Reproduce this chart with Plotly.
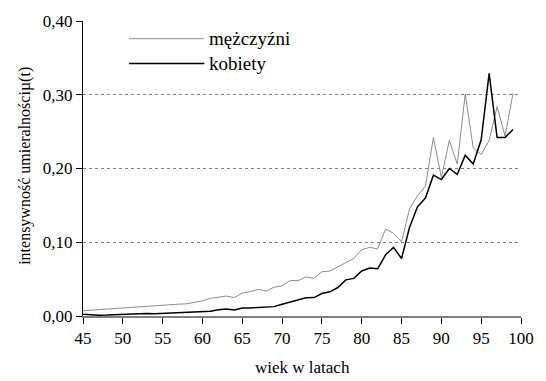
import plotly.graph_objects as go

# Age in years
ages = list(range(45, 100))

# Mortality intensity mu(t), men
men = [0.0072, 0.0080, 0.0088, 0.0098, 0.0105, 0.0112, 0.0118, 0.0124, 0.0130, 0.0142,
       0.0150, 0.0155, 0.0160, 0.0165, 0.0185, 0.0205, 0.0240, 0.0260, 0.0270, 0.0250,
       0.0310, 0.0330, 0.0360, 0.0340, 0.0390, 0.0410, 0.0480, 0.0480, 0.0530, 0.0510,
       0.0600, 0.0610, 0.0670, 0.0730, 0.0780, 0.0900, 0.0930, 0.0910, 0.1180, 0.1120,
       0.1006, 0.1450, 0.1630, 0.1760, 0.2420, 0.1880, 0.2380, 0.2060, 0.3010, 0.2280,
       0.2190, 0.2380, 0.2840, 0.2440, 0.3020]

# Mortality intensity mu(t), women
women = [0.0025, 0.0015, 0.0010, 0.0012, 0.0018, 0.0022, 0.0025, 0.0032, 0.0035, 0.0030,
         0.0034, 0.0036, 0.0040, 0.0045, 0.0050, 0.0055, 0.0065, 0.0085, 0.0094, 0.0080,
         0.0108, 0.0110, 0.0117, 0.0126, 0.0127, 0.0160, 0.0190, 0.0216, 0.0247, 0.0250,
         0.0305, 0.0328, 0.0386, 0.0490, 0.0510, 0.0610, 0.0650, 0.0640, 0.0830, 0.0930,
         0.0780, 0.1200, 0.1480, 0.1600, 0.1910, 0.1850, 0.2000, 0.1920, 0.2180, 0.2060,
         0.2390, 0.3290, 0.2420, 0.2420, 0.2530]

series_names = ["mężczyźni", "kobiety"]
x_ticks = list(range(45, 101, 5))
y_ticks = [0.0, 0.1, 0.2, 0.3, 0.4]

FONT = "Liberation Serif"
MEN_COLOR = "#8c8c8c"
WOMEN_COLOR = "#000000"

fig = go.Figure()
fig.add_trace(go.Scatter(x=ages, y=men, mode="lines", name=series_names[0],
                         line=dict(color=MEN_COLOR, width=1)))
fig.add_trace(go.Scatter(x=ages, y=women, mode="lines", name=series_names[1],
                         line=dict(color=WOMEN_COLOR, width=1.5)))

# Hand-drawn legend with long line samples
legend_rows = [(series_names[0], MEN_COLOR, 1, 0.940), (series_names[1], WOMEN_COLOR, 1.5, 0.856)]
shapes = []
annotations = []
for name, color, width, yy in legend_rows:
    shapes.append(dict(type="line", xref="paper", yref="paper", x0=0.105, x1=0.277,
                       y0=yy, y1=yy, line=dict(color=color, width=width)))
    annotations.append(dict(text=name, xref="paper", yref="paper", x=0.283, y=yy,
                            xanchor="left", yanchor="middle", showarrow=False,
                            font=dict(family=FONT, size=19, color="#000")))

annotations.append(dict(text="intensywność umieralnościµ(t)", xref="paper", yref="paper",
                        x=-0.134, y=0.51, textangle=-90, showarrow=False,
                        xanchor="center", yanchor="middle",
                        font=dict(family=FONT, size=16, color="#000")))
annotations.append(dict(text="wiek w latach", xref="paper", yref="paper",
                        x=0.5, y=-0.135, showarrow=False, xanchor="center", yanchor="top",
                        font=dict(family=FONT, size=17, color="#000")))

fig.update_layout(
    width=546, height=381,
    margin=dict(l=83, r=15, t=19, b=65),
    paper_bgcolor="white", plot_bgcolor="white",
    showlegend=False,
    separators=", ",
    font=dict(family=FONT, size=17, color="#000"),
    shapes=shapes,
    annotations=annotations,
)
fig.update_xaxes(range=[45, 100], tickvals=x_ticks, showgrid=False, zeroline=False,
                 showline=True, linecolor="#808080", linewidth=2,
                 ticks="outside", ticklen=6, tickcolor="#000", tickwidth=1,
                 tickfont=dict(family=FONT, size=17))
fig.update_yaxes(range=[0, 0.4], tickvals=y_ticks, tickformat=".2f",
                 showgrid=True, gridcolor="#808080", griddash="dot", gridwidth=1,
                 zeroline=False, showline=True, linecolor="#000", linewidth=1,
                 ticks="outside", ticklen=6, tickcolor="#000", tickwidth=1,
                 tickfont=dict(family=FONT, size=17))

fig.write_html("out.html")
